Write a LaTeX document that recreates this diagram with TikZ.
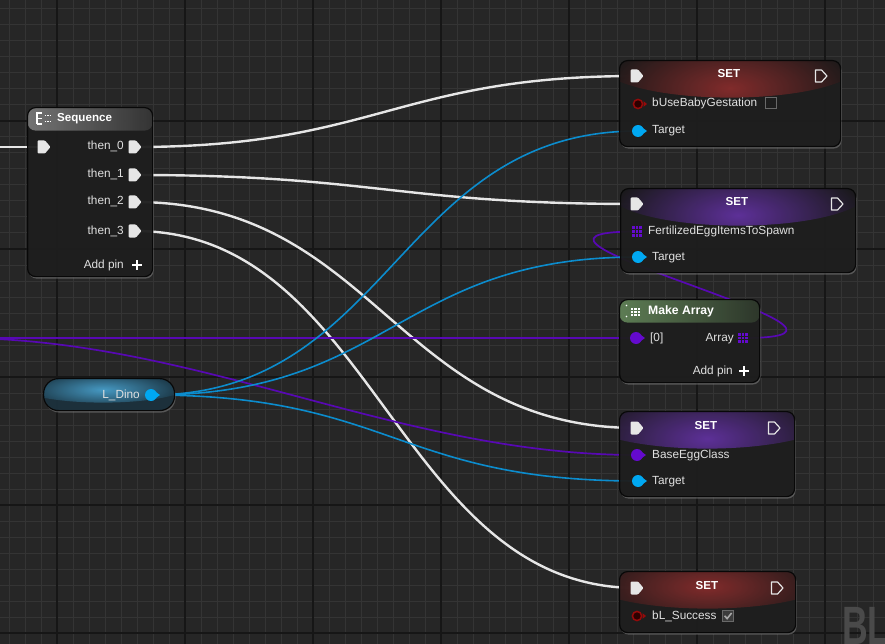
\documentclass[tikz,border=0pt]{standalone}
\usepackage{fontspec}
\setmainfont{Liberation Sans}
\usetikzlibrary{shadows}

\definecolor{bgcol}{RGB}{38,38,38}
\definecolor{gridminor}{RGB}{52,52,52}
\definecolor{gridmajor}{RGB}{22,22,22}
\definecolor{nodebg}{RGB}{24,24,24}
\definecolor{nodeedge}{RGB}{8,8,8}
\definecolor{labelcol}{RGB}{224,224,224}
\definecolor{execcol}{RGB}{230,230,230}
\definecolor{objblue}{RGB}{12,140,205}
\definecolor{pinblue}{RGB}{0,168,242}
\definecolor{arrpurple}{RGB}{88,8,180}
\definecolor{pinpurple}{RGB}{100,10,205}
\definecolor{boolred}{RGB}{150,10,10}
\definecolor{booldark}{RGB}{45,0,0}
\definecolor{setred}{RGB}{140,45,45}
\definecolor{setpurple}{RGB}{100,50,165}
\definecolor{mkgreen}{RGB}{100,135,90}
\definecolor{seqgray}{RGB}{125,125,125}
\definecolor{dinoblue}{RGB}{75,165,210}
\definecolor{dinobase}{RGB}{22,44,56}
\definecolor{wmgray}{RGB}{74,74,74}
\definecolor{boxgray}{RGB}{105,105,105}

\tikzset{
  bpnode/.style={draw=nodeedge, line width=1.2pt, fill=nodebg, fill opacity=.9,
    rounded corners=8pt, anchor=north west, inner sep=0pt,
    drop shadow={shadow xshift=1pt, shadow yshift=-2pt, opacity=.55}},
  setnode/.style={bpnode, path picture={
    \shade[inner color=#1, outer color=nodebg]
      ([yshift=-3pt]path picture bounding box.north) ellipse (130pt and 34pt);}},
  barnode/.style={bpnode, path picture={
    \shade[left color=#1, right color=#1!30!nodebg]
      (path picture bounding box.north west) rectangle ([yshift=-23pt]path picture bounding box.north east);}},
  pinlabel/.style={text=labelcol, font=\fontsize{11.8}{14}\selectfont, inner sep=0pt,
    text height=8.6pt, text depth=2.6pt},
  titlelabel/.style={text=white, font=\fontsize{11.6}{14}\selectfont\bfseries, inner sep=0pt,
    text height=8.6pt, text depth=2.6pt},
  execwire/.style={execcol, line width=2.4pt},
  objwire/.style={objblue, line width=1.6pt},
  arrwire/.style={arrpurple, line width=1.7pt},
  pics/execin/.style={code={
    \fill[execcol, rounded corners=1pt] (-6.5,-6.5) -- (1,-6.5) -- (6.5,0) -- (1,6.5) -- (-6.5,6.5) -- cycle;}},
  pics/execout/.style={code={
    \draw[execcol, line width=1.2pt, line join=round] (-5.5,-6) -- (0.5,-6) -- (6,0) -- (0.5,6) -- (-5.5,6) -- cycle;}},
  pics/datapin/.style={code={
    \fill[#1] (0,0) circle (6pt);
    \fill[#1] (4.5,-3.2) -- (9,0) -- (4.5,3.2) -- cycle;}},
  pics/boolpin/.style={code={
    \fill[booldark] (0,0) circle (4.6pt);
    \draw[boolred, line width=1.5pt] (0,0) circle (4.6pt);
    \fill[boolred] (5.5,-2.8) -- (9,0) -- (5.5,2.8) -- cycle;}},
  pics/arricon/.style={code={
    \foreach \i in {-1,0,1} \foreach \j in {-1,0,1}
      \fill[pinpurple] (\i*3.6-1.45,\j*3.6-1.45) rectangle +(2.9,2.9);}},
  pics/checkbox/.style={code={
    \draw[boxgray, line width=1pt] (-5.5,-5.5) rectangle (5.5,5.5);}},
  pics/checkedbox/.style={code={
    \fill[boxgray!45!nodebg] (-5.5,-5.5) rectangle (5.5,5.5);
    \draw[boxgray, line width=1pt] (-5.5,-5.5) rectangle (5.5,5.5);
    \draw[labelcol!75!black, line width=1.6pt] (-3.4,-0.2) -- (-0.9,2.6) -- (3.6,-3);}},
  pics/addplus/.style={code={
    \draw[white, line width=2.2pt] (-4.8,0) -- (4.8,0) (0,-4.8) -- (0,4.8);}}
}

\begin{document}
\begin{tikzpicture}[x=1pt, y=-1pt]
  \useasboundingbox (0,0) rectangle (885,644);
  \clip (0,0) rectangle (885,644);
  % canvas grid
  \fill[bgcol] (0,0) rectangle (885,644);
  \foreach \gx in {9,25,...,889} \draw[gridminor, line width=1pt] (\gx,0) -- (\gx,644);
  \foreach \gy in {9,25,...,649} \draw[gridminor, line width=1pt] (0,\gy) -- (885,\gy);
  \foreach \gx in {57,185,...,825} \draw[gridmajor, line width=1.3pt] (\gx,0) -- (\gx,644);
  \foreach \gy in {121,249,377,505,633} \draw[gridmajor, line width=1.3pt] (0,\gy) -- (885,\gy);

  % pins
  \coordinate (execsrc) at (-20,147);
  \coordinate (arrsrc) at (-42,338);
  \coordinate (seqin) at (44,147);
  \coordinate (then0) at (135,147);
  \coordinate (then1) at (135,175);
  \coordinate (then2) at (135,202);
  \coordinate (then3) at (135,231);
  \coordinate (dinoout) at (151,395);
  \coordinate (gestin) at (637,76);
  \coordinate (gestout) at (821,76);
  \coordinate (gestbool) at (638,104);
  \coordinate (gesttarget) at (638,131);
  \coordinate (fertin) at (637,204);
  \coordinate (fertout) at (837,204);
  \coordinate (fertarr) at (637,231.5);
  \coordinate (ferttarget) at (638,257);
  \coordinate (mkelem) at (636,338);
  \coordinate (mkarr) at (743,338);
  \coordinate (eggin) at (637,428);
  \coordinate (eggout) at (774,428);
  \coordinate (eggclass) at (637,455);
  \coordinate (eggtarget) at (638,481);
  \coordinate (succin) at (637,588);
  \coordinate (succout) at (777,588);
  \coordinate (succbool) at (637,616);

  % wires
  \draw[execwire] (execsrc) -- (seqin);
  \draw[execwire] (then0) .. controls +(240,0) and +(-240,0) .. (gestin);
  \draw[execwire] (then1) .. controls +(240,0) and +(-240,0) .. (fertin);
  \draw[execwire] (then2) .. controls +(240,0) and +(-240,0) .. (eggin);
  \draw[execwire] (then3) .. controls +(240,0) and +(-240,0) .. (succin);
  \draw[arrwire] (arrsrc) -- (mkelem);
  \draw[arrwire] (arrsrc) .. controls +(240,0) and +(-240,0) .. (eggclass);
  \draw[arrwire] (mkarr) .. controls +(185,0) and +(-185,0) .. (fertarr);
  \draw[objwire] (dinoout) .. controls +(240,0) and +(-240,0) .. (gesttarget);
  \draw[objwire] (dinoout) .. controls +(240,0) and +(-240,0) .. (ferttarget);
  \draw[objwire] (dinoout) .. controls +(240,0) and +(-240,0) .. (eggtarget);

  % nodes
  \node[barnode=seqgray, minimum width=125pt, minimum height=169pt] (seq) at (27,107) {};
  \node[setnode=setred, minimum width=221pt, minimum height=86pt] (gest) at (619,60) {};
  \node[setnode=setpurple, minimum width=235pt, minimum height=84pt] (fert) at (620,188) {};
  \node[barnode=mkgreen, minimum width=140pt, minimum height=83pt] (mkarray) at (619,299) {};
  \node[setnode=setpurple, minimum width=175pt, minimum height=85pt] (egg) at (619,411) {};
  \node[setnode=setred, minimum width=176pt, minimum height=61pt] (succ) at (619,571) {};
  \node[bpnode, fill=dinobase, rounded corners=15pt, minimum width=131pt, minimum height=32pt,
    path picture={\shade[inner color=dinoblue, outer color=dinobase]
      ([xshift=-6pt,yshift=-7pt]path picture bounding box.north) ellipse (85pt and 17pt);}] (dino) at (43,378) {};

  % Sequence
  \draw[white, line width=1.3pt] (37,112.5) -- (37,124) (37,113) -- (42,113) (37,118.5) -- (42,118.5) (37,124) -- (42,124);
  \draw[white, line width=1.3pt, dash pattern=on 1.5pt off 1pt] (44.5,115.5) -- (51,115.5) (44.5,121.5) -- (51,121.5);
  \node[titlelabel, anchor=west] (seqtitle) at (57,118.5) {Sequence};
  \pic at (seqin) {execin};
  \pic at (then0) {execin};
  \pic at (then1) {execin};
  \pic at (then2) {execin};
  \pic at (then3) {execin};
  \node[pinlabel, anchor=east] (then0lbl) at (124,147) {then\_0};
  \node[pinlabel, anchor=east] (then1lbl) at (124,175) {then\_1};
  \node[pinlabel, anchor=east] (then2lbl) at (124,202) {then\_2};
  \node[pinlabel, anchor=east] (then3lbl) at (124,231) {then\_3};
  \node[pinlabel, anchor=east] (seqadd) at (124,265) {Add pin};
  \pic at (137,265) {addplus};

  % SET bUseBabyGestation
  \node[titlelabel] (gesttitle) at (729,74.5) {SET};
  \pic at (gestin) {execin};
  \pic at (gestout) {execout};
  \pic at (gestbool) {boolpin};
  \node[pinlabel, anchor=west] (gestlbl) at (652,104) {bUseBabyGestation};
  \pic at (771,103.5) {checkbox};
  \pic at (gesttarget) {datapin=pinblue};
  \node[pinlabel, anchor=west] (gesttgt) at (652,131) {Target};

  % SET FertilizedEggItemsToSpawn
  \node[titlelabel] (ferttitle) at (737,202.5) {SET};
  \pic at (fertin) {execin};
  \pic at (fertout) {execout};
  \pic at (fertarr) {arricon};
  \node[pinlabel, anchor=west] (fertlbl) at (648,231.5) {FertilizedEggItemsToSpawn};
  \pic at (ferttarget) {datapin=pinblue};
  \node[pinlabel, anchor=west] (ferttgt) at (652,257) {Target};

  % Make Array
  \fill[white] (626.5,305.5) circle (0.9pt) (626.5,316.5) circle (0.9pt);
  \foreach \i in {0,1,2} \foreach \j in {0,1,2}
    \fill[white] (631+\i*3.3,307.5+\j*3.3) rectangle +(2.2,2.2);
  \node[titlelabel, font=\fontsize{12.2}{14}\selectfont\bfseries, anchor=west] (mktitle) at (648,311) {Make Array};
  \pic at (mkelem) {datapin=pinpurple};
  \node[pinlabel, anchor=west] (mkelemlbl) at (650,338) {[0]};
  \node[pinlabel, anchor=east] (mkarrlbl) at (734,338) {Array};
  \pic at (mkarr) {arricon};
  \node[pinlabel, anchor=east] (mkadd) at (733,371) {Add pin};
  \pic at (744,371) {addplus};

  % SET BaseEggClass
  \node[titlelabel] (eggtitle) at (706,426.5) {SET};
  \pic at (eggin) {execin};
  \pic at (eggout) {execout};
  \pic at (eggclass) {datapin=pinpurple};
  \node[pinlabel, anchor=west] (egglbl) at (652,455) {BaseEggClass};
  \pic at (eggtarget) {datapin=pinblue};
  \node[pinlabel, anchor=west] (eggtgt) at (652,481) {Target};

  % SET bL_Success
  \node[titlelabel] (succtitle) at (707,586.5) {SET};
  \pic at (succin) {execin};
  \pic at (succout) {execout};
  \pic at (succbool) {boolpin};
  \node[pinlabel, anchor=west] (succlbl) at (652,616) {bL\_Success};
  \pic at (728,616) {checkedbox};

  % L_Dino
  \node[pinlabel, anchor=east] (dinolbl) at (140,395) {L\_Dino};
  \pic at (dinoout) {datapin=pinblue};

  % watermark
  \node[anchor=north west, inner sep=0pt, text=wmgray, xscale=.66,
    font=\fontsize{54}{54}\selectfont\bfseries] (wm) at (842,607) {BLUEPRINT};
\end{tikzpicture}
\end{document}
